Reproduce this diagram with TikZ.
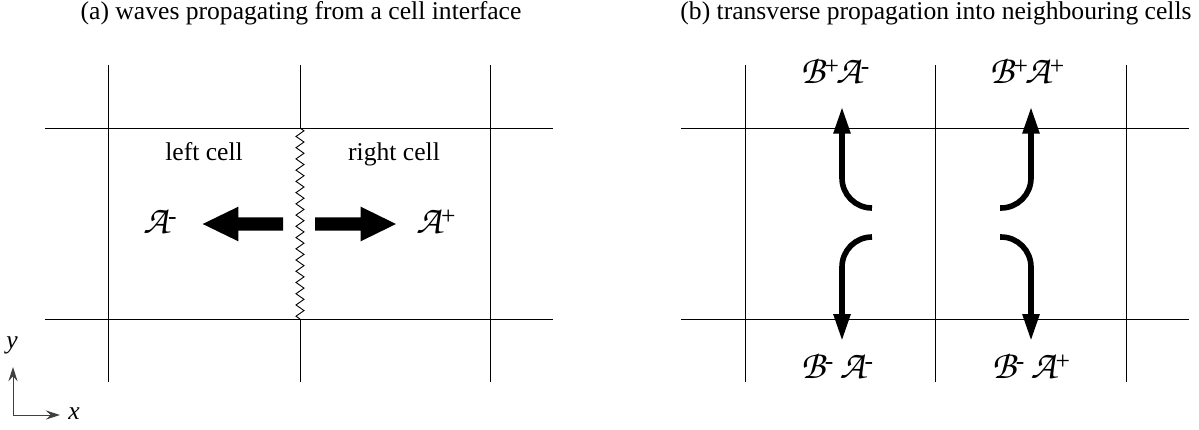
\documentclass[tikz,border=0pt]{standalone}
\usepackage{fontspec}
\setmainfont{Liberation Serif}
\usetikzlibrary{arrows.meta}
\newcommand\calA{{\fontsize{20}{22}\usefont{OT1}{pzc}{mb}{it}A}}
\newcommand\calB{{\fontsize{20}{22}\usefont{OT1}{pzc}{mb}{it}B}}
\newcommand\up[1]{\raisebox{0.33em}{#1}}
\begin{document}
\begin{tikzpicture}[x=0.5pt,y=-0.5pt,
  grid/.style={line width=0.45pt},
  lbl/.style={inner sep=0pt, anchor=base, font=\fontsize{12.8}{15}\selectfont},
  fatarrow/.style={fill=black},
  turn/.style={line width=2.8pt, rounded corners=15pt, -{Triangle[length=13.5pt,width=8pt]}},
  axis/.style={line width=0.5pt, draw=black!75, -{Stealth[length=7pt,width=4.5pt]}}]
\useasboundingbox (0,0) rectangle (1199,429);
% titles
\node[lbl] (ta) at (301,19) {(a) waves propagating from a cell interface};
\node[lbl] (tb) at (936,19) {(b) transverse propagation into neighbouring cells};
% grid (a)
\draw[grid] (45,128) -- (553,128);
\draw[grid] (45,319) -- (553,319);
\draw[grid] (108.5,65) -- (108.5,382);
\draw[grid] (300,65) -- (300,128);
\draw[grid] (300,319) -- (300,382);
\draw[grid] (490,65) -- (490,382);
% zigzag interface
\draw[line width=0.45pt] (300,128)
  \foreach \i in {0,...,16} { -- ({300+4},{128+(\i+0.25)*191/17}) -- ({300-4},{128+(\i+0.75)*191/17}) } -- (300,319);
% fat arrows
\fill[fatarrow] (283,217.3) -- (238.3,217.3) -- (238.3,206.7) -- (202.7,224) -- (238.3,241.3) -- (238.3,230.7) -- (283,230.7) -- cycle;
\fill[fatarrow] (315,217.3) -- (360.7,217.3) -- (360.7,206.7) -- (396,224) -- (360.7,241.3) -- (360.7,230.7) -- (315,230.7) -- cycle;
% labels (a)
\node[lbl] (lc) at (204,160) {left cell};
\node[lbl] (rc) at (394,160) {right cell};
\node[lbl] (am) at (160,233) {\calA\up{-}};
\node[lbl] (ap) at (436,233) {\calA\up{+}};
% grid (b)
\draw[grid] (681,128) -- (1189,128);
\draw[grid] (681,319) -- (1189,319);
\draw[grid] (745,65) -- (745,382);
\draw[grid] (935,65) -- (935,382);
\draw[grid] (1126,65) -- (1126,382);
% turning arrows
\coordinate (s1) at (872,208); \coordinate (e1) at (842,106.7);
\coordinate (s2) at (1000,208); \coordinate (e2) at (1031,106.7);
\coordinate (s3) at (872,237); \coordinate (e3) at (842,341);
\coordinate (s4) at (1000,237); \coordinate (e4) at (1031,341);
\draw[turn] (s1) -| (e1);
\draw[turn] (s2) -| (e2);
\draw[turn] (s3) -| (e3);
\draw[turn] (s4) -| (e4);
% labels (b)
\node[lbl] (bpam) at (835,83) {\calB\up{+}\kern-1.5pt\calA\up{-}};
\node[lbl] (bpap) at (1027,83) {\calB\up{+}\kern-1.5pt\calA\up{+}};
\node[lbl] (bmam) at (837,378) {\calB\up{-} \calA\up{-}};
\node[lbl] (bmap) at (1031,378) {\calB\up{-} \calA\up{+}};
% axes
\coordinate (O) at (13,415);
\coordinate (Y) at (13,367);
\coordinate (X) at (60,415);
\draw[axis] (O) -- (Y);
\draw[axis] (O) -- (X);
\node[lbl, anchor=center] (yl) at (12,345) {\itshape y};
\node[lbl, anchor=center] (xl) at (74,414) {\itshape x};
\end{tikzpicture}
\end{document}
